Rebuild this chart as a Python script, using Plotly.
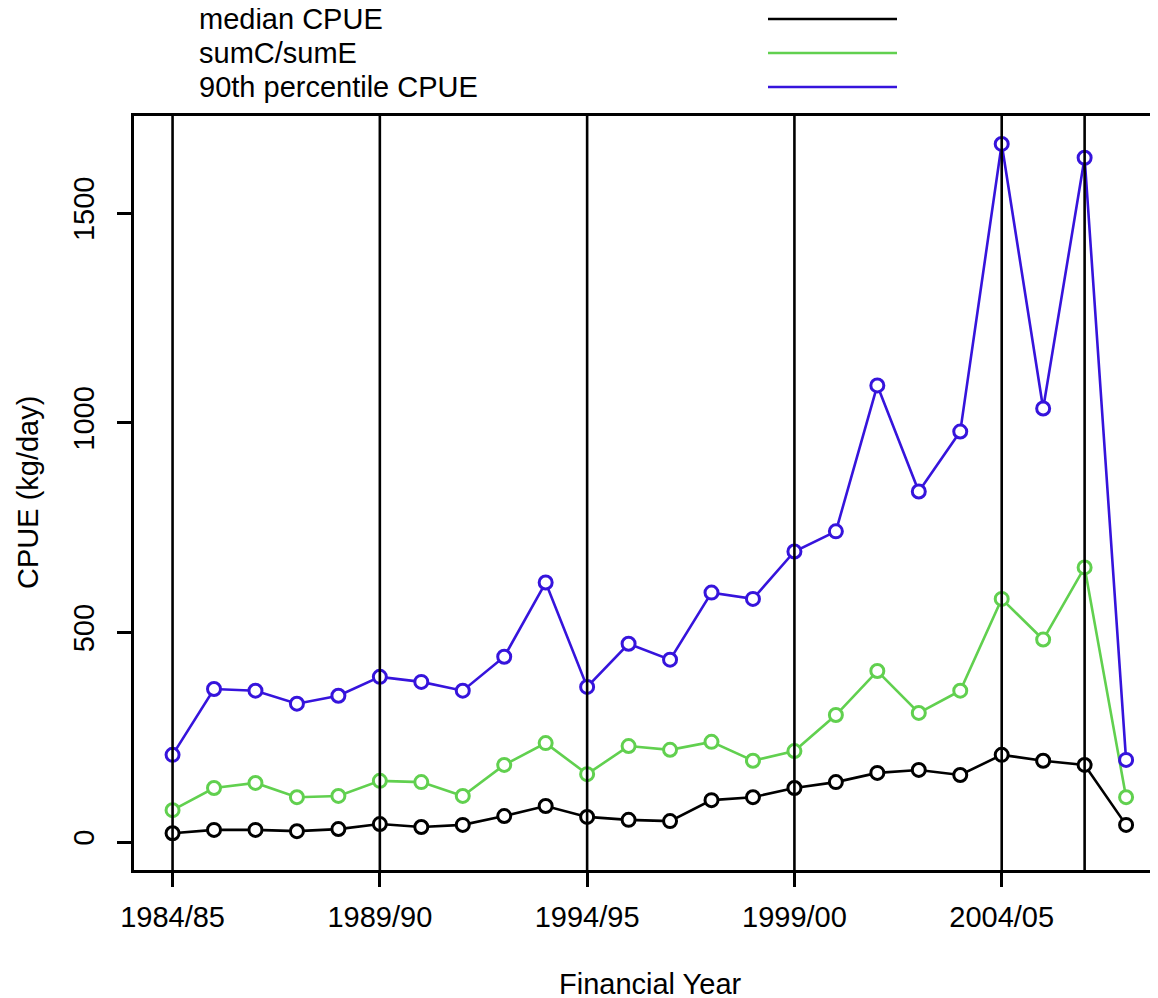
import plotly.graph_objects as go

years = ["1984/85", "1985/86", "1986/87", "1987/88", "1988/89", "1989/90", "1990/91",
         "1991/92", "1992/93", "1993/94", "1994/95", "1995/96", "1996/97", "1997/98",
         "1998/99", "1999/00", "2000/01", "2001/02", "2002/03", "2003/04", "2004/05",
         "2005/06", "2006/07", "2007/08"]

median_cpue = [21, 29, 29, 26, 31, 43, 36, 41, 62, 86, 60, 53, 50, 100, 107, 129,
               143, 165, 172, 160, 208, 194, 184, 41]
sumc_sume = [76, 129, 141, 107, 110, 146, 143, 110, 184, 236, 162, 229, 220, 239, 194,
             217, 303, 408, 308, 361, 580, 483, 655, 107]
p90_cpue = [208, 365, 361, 330, 349, 394, 382, 361, 442, 619, 370, 473, 435, 595, 580,
            693, 741, 1089, 836, 979, 1665, 1034, 1632, 196]

series_names = ["median CPUE", "sumC/sumE", "90th percentile CPUE"]
series_colors = ["#000000", "#61D04F", "#3614DC"]
tick_labels = ["1984/85", "1989/90", "1994/95", "1999/00", "2004/05"]
vline_years = ["1984/85", "1989/90", "1994/95", "1999/00", "2004/05", "2006/07"]

FONT = "Liberation Sans, Arial, sans-serif"
FS = 29

# page body has an 8px margin; lay the figure out in page coords minus 8
OFF = 8
W, H = 1158 - OFF, 998 - OFF
L, T, B = 134 - OFF, 116 - OFF, 128
PW, PH = W - L, H - T - B

def px_x(page_x):
    return (page_x - OFF - L) / PW

def px_y(page_y):
    return 1 - (page_y - OFF - T) / PH

x = list(range(len(years)))
fig = go.Figure()
for name, vals, col in zip(series_names, [median_cpue, sumc_sume, p90_cpue], series_colors):
    fig.add_trace(go.Scatter(
        x=x, y=vals, mode="lines+markers", name=name,
        line=dict(color=col, width=2.6),
        marker=dict(symbol="circle", size=13, color="white",
                    line=dict(color=col, width=3)),
        showlegend=False,
    ))

for yr in vline_years:
    fig.add_shape(type="line", xref="x", yref="paper", x0=years.index(yr), x1=years.index(yr),
                  y0=0, y1=1, line=dict(color="black", width=2.6), layer="above")

# legend (R-style, outside plot)
legend_y = [19, 53, 87]
for name, col, py in zip(series_names, series_colors, legend_y):
    yp = px_y(py)
    fig.add_annotation(xref="paper", yref="paper", x=px_x(197), y=yp,
                       text=name, showarrow=False, xanchor="left", yanchor="middle",
                       font=dict(family=FONT, size=FS, color="black"))
    fig.add_shape(type="line", xref="paper", yref="paper",
                  x0=px_x(768), x1=px_x(897), y0=yp, y1=yp,
                  line=dict(color=col, width=2.6))

fig.add_annotation(xref="paper", yref="paper", x=px_x(650), y=px_y(984),
                   text="Financial Year", showarrow=False, xanchor="center", yanchor="middle",
                   font=dict(family=FONT, size=FS, color="black"))
fig.add_annotation(xref="paper", yref="paper", x=px_x(28), y=0.5,
                   text="CPUE (kg/day)", showarrow=False, xanchor="center", yanchor="middle",
                   textangle=-90, font=dict(family=FONT, size=FS, color="black"))

fig.update_layout(
    width=W, height=H,
    margin=dict(l=L, r=0, t=T, b=B, pad=0),
    paper_bgcolor="white", plot_bgcolor="white",
    font=dict(family=FONT, size=FS, color="black"),
    xaxis=dict(range=[-0.93, 23.77], tickvals=[years.index(t) for t in tick_labels],
               ticktext=tick_labels, showgrid=False, zeroline=False,
               showline=True, linecolor="black", linewidth=2.6, mirror=True,
               ticks="outside", ticklen=14, tickwidth=2.6, tickcolor="black",
               ticklabelstandoff=5, tickfont=dict(family=FONT, size=FS)),
    yaxis=dict(range=[-66.6, 1731.6], tickvals=[0, 500, 1000, 1500],
               showgrid=False, zeroline=False,
               showline=True, linecolor="black", linewidth=2.6, mirror=False,
               ticks="outside", ticklen=14, tickwidth=2.6, tickcolor="black",
               tickangle=-90, ticklabelstandoff=12, tickfont=dict(family=FONT, size=FS)),
)

fig.write_html("out.html")
